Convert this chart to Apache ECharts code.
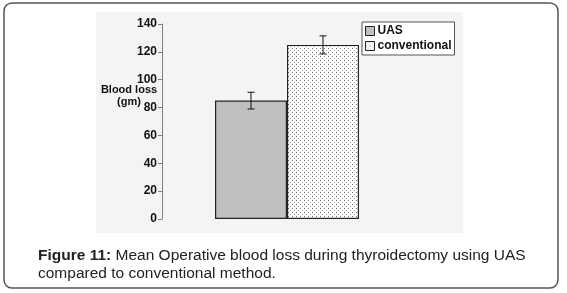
<!DOCTYPE html>
<html>
<head>
<meta charset="utf-8">
<script src="https://cdn.jsdelivr.net/npm/echarts@6/dist/echarts.min.js"></script>
<style>
  html, body { margin: 0; padding: 0; background: #fff; }
  #chart { width: 567px; height: 293px; }
</style>
</head>
<body>
<div id="chart"></div>
<script>
const groups = ['Mean blood loss']
const seriesNames = ['UAS', 'conventional']
const meanValues = [85, 125]
const errValues = [6, 6.5]
const yTicks = { min: 0, max: 140, interval: 20 }

// dotted fill like the original figure
const makeDots = () => {
  const c = document.createElement('canvas')
  c.width = 4
  c.height = 4
  const ctx = c.getContext('2d')
  ctx.fillStyle = '#ffffff'
  ctx.fillRect(0, 0, 4, 4)
  ctx.fillStyle = '#6e6e6e'
  ctx.fillRect(0, 0, 1, 1)
  ctx.fillStyle = '#a0a0a0'
  ctx.fillRect(2, 2, 1, 1)
  return c
}
const dots = makeDots()

const fills = ['#c0c0c0', { image: dots, repeat: 'repeat' }]

const barSeries = seriesNames.map((name, i) => ({
  name,
  type: 'bar',
  barWidth: 72,
  barGap: '0%',
  data: [meanValues[i]],
  itemStyle: { color: fills[i], borderColor: '#222', borderWidth: 1.2 },
  emphasis: { disabled: true },
  z: 2
}))

const errSeries = {
  type: 'custom',
  data: seriesNames.map((n, i) => [i, meanValues[i], errValues[i]]),
  renderItem: (params, api) => {
    const idx = api.value(0)
    const mean = api.value(1)
    const err = api.value(2)
    const base = api.coord([0, 0])
    const bw = 72
    const x = base[0] - bw / 2 + idx * bw
    const top = api.coord([0, mean + err])[1]
    const bot = api.coord([0, mean - err])[1]
    const half = 3.5
    const style = { stroke: '#111', lineWidth: 1 }
    return {
      type: 'group',
      children: [
        { type: 'line', shape: { x1: x, y1: top, x2: x, y2: bot }, style },
        { type: 'line', shape: { x1: x - half, y1: top, x2: x + half, y2: top }, style },
        { type: 'line', shape: { x1: x - half, y1: bot, x2: x + half, y2: bot }, style }
      ]
    }
  },
  z: 5,
  silent: true
}

const chart = echarts.init(document.getElementById('chart'))
chart.setOption({
  animation: false,
  backgroundColor: '#fff',
  textStyle: { fontFamily: 'Liberation Sans, Arial, sans-serif' },
  graphic: [
    {
      type: 'rect', z: -10, silent: true,
      shape: { x: 4, y: 3, width: 554, height: 285, r: 8 },
      style: { fill: '#fff', stroke: '#555', lineWidth: 1.5 }
    },
    {
      type: 'rect', z: -5, silent: true,
      shape: { x: 96, y: 12, width: 367, height: 221 },
      style: { fill: '#f4f4f4' }
    },
    {
      type: 'text', z: 10, silent: true,
      x: 129, y: 84,
      style: {
        text: 'Blood loss\n(gm)',
        align: 'center',
        verticalAlign: 'top',
        font: 'bold 11px Liberation Sans, Arial, sans-serif',
        fill: '#111',
        lineHeight: 12
      }
    }
  ],
  title: {
    text: '{b|Figure 11:} Mean Operative blood loss during thyroidectomy using UAS\ncompared to conventional method.',
    left: 38,
    top: 247,
    padding: 0,
    textStyle: {
      fontSize: 15.5,
      fontWeight: 'normal',
      color: '#222',
      lineHeight: 18,
      fontFamily: 'Liberation Sans, Arial, sans-serif',
      rich: {
        b: { fontSize: 15.5, fontWeight: 'bold', color: '#222', fontFamily: 'Liberation Sans, Arial, sans-serif' }
      }
    }
  },
  legend: {
    data: seriesNames,
    orient: 'vertical',
    left: 362,
    top: 22,
    padding: [3, 3, 3, 3],
    itemGap: 3,
    itemWidth: 9,
    itemHeight: 9,
    backgroundColor: '#fff',
    borderColor: '#555',
    borderWidth: 1,
    borderRadius: 0,
    icon: 'rect',
    itemStyle: { borderColor: '#222', borderWidth: 1 },
    textStyle: { fontSize: 12, fontWeight: 'bold', color: '#111', padding: [0, 0, 0, -2] },
    selectedMode: false
  },
  grid: { left: 162, right: 155, top: 24, bottom: 74, containLabel: false },
  xAxis: {
    type: 'category',
    data: groups,
    axisLine: { show: false },
    axisTick: { show: false },
    axisLabel: { show: false }
  },
  yAxis: {
    type: 'value',
    min: yTicks.min,
    max: yTicks.max,
    interval: yTicks.interval,
    splitLine: { show: false },
    axisLine: { show: true, lineStyle: { color: '#808080', width: 1 } },
    axisTick: { show: true, length: 4, lineStyle: { color: '#808080' } },
    axisLabel: { fontSize: 12, fontWeight: 'bold', color: '#111', margin: 5 }
  },
  series: [...barSeries, errSeries]
})
</script>
</body>
</html>
